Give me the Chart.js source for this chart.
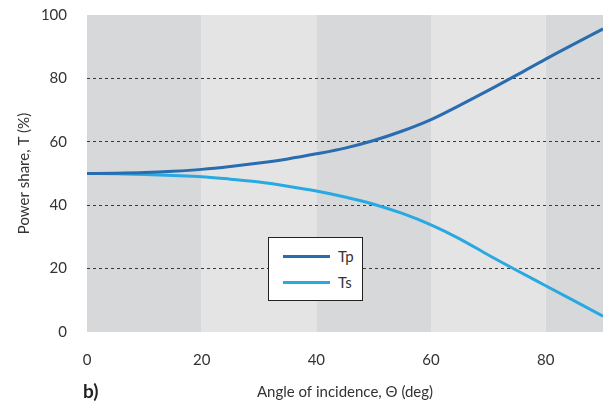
<!DOCTYPE html>
<html>
<head>
<meta charset="utf-8">
<script src="https://cdn.jsdelivr.net/npm/chart.js@4"></script>
<style>
  html, body { margin: 0; padding: 0; background: #fff; }
  #wrap { position: relative; width: 603px; height: 405px; }
  #legend {
    position: absolute; left: 268px; top: 237px; width: 95px; height: 64px;
    background: #fff; border: 1px solid #222; box-sizing: border-box;
    font-family: Lato, "Noto Sans", sans-serif; font-size: 15px; color: #333;
  }
  #legend .row { position: absolute; left: 14px; display: flex; align-items: center; }
  #legend .sw { width: 47px; height: 3px; margin-right: 8px; }
  #tag {
    position: absolute; left: 83px; top: 379px;
    font-family: Lato, "Noto Sans", sans-serif; font-weight: bold; font-size: 19px; color: #222;
  }
</style>
</head>
<body>
<div id="wrap">
  <canvas id="chart" width="603" height="405"></canvas>
  <div id="legend">
    <div class="row" style="top:9px"><span class="sw" style="background:#2a6cb0"></span>Tp</div>
    <div class="row" style="top:35px"><span class="sw" style="background:#29a9e1"></span>Ts</div>
  </div>
  <div id="tag">b)</div>
</div>
<script>
'use strict';

/* ── Data ── */
const angles = [0, 5, 10, 15, 20, 25, 30, 35, 40, 45, 50, 55, 60, 65, 70, 75, 80, 85, 90];
const tpValues = [50, 50.1, 50.3, 50.7, 51.3, 52.2, 53.3, 54.6, 56.2, 58.0, 60.4, 63.4, 67.0, 71.5, 76.2, 81.1, 86.1, 90.9, 95.6];
const tsValues = [50, 49.9, 49.7, 49.4, 49.0, 48.2, 47.3, 46.0, 44.5, 42.6, 40.3, 37.4, 33.8, 29.4, 24.3, 19.4, 14.6, 9.8, 5.0];
const xTicks = [0, 20, 40, 60, 80];
const yTicks = [0, 20, 40, 60, 80, 100];
const bandEdges = [0, 20, 40, 60, 80, 90];
const bandColors = ['#d7d8da', '#e4e4e4', '#d7d8da', '#e4e4e4', '#d7d8da'];

const FONT = 'Lato, "Noto Sans", sans-serif';

/* ── Alternating background bands (under grid + lines) ── */
const bandsPlugin = {
  id: 'bands',
  beforeDraw(chart) {
    const { ctx, chartArea: a, scales: { x } } = chart;
    ctx.save();
    for (let i = 0; i < bandColors.length; i++) {
      const x0 = x.getPixelForValue(bandEdges[i]);
      const x1 = x.getPixelForValue(bandEdges[i + 1]);
      ctx.fillStyle = bandColors[i];
      ctx.fillRect(x0, a.top, x1 - x0, a.bottom - a.top);
    }
    ctx.restore();
  }
};

const toPoints = vals => angles.map((a, i) => ({ x: a, y: vals[i] }));

new Chart(document.getElementById('chart'), {
  type: 'line',
  data: {
    datasets: [
      { label: 'Tp', data: toPoints(tpValues), borderColor: '#2a6cb0', borderWidth: 3, pointRadius: 0, cubicInterpolationMode: 'monotone', fill: false },
      { label: 'Ts', data: toPoints(tsValues), borderColor: '#29a9e1', borderWidth: 3, pointRadius: 0, cubicInterpolationMode: 'monotone', fill: false },
    ],
  },
  options: {
    responsive: false,
    animation: false,
    layout: { padding: { top: 15, right: 0, left: 0, bottom: 0 } },
    plugins: { legend: { display: false }, tooltip: { enabled: false } },
    scales: {
      x: {
        type: 'linear', min: 0, max: 90,
        afterBuildTicks: s => { s.ticks = xTicks.map(v => ({ value: v })); },
        afterFit: s => { s.height = 73; s.paddingLeft = 0; s.paddingRight = 0; },
        grid: { display: false },
        border: { display: false },
        ticks: { color: '#333', font: { family: FONT, size: 15 }, padding: 11 },
        title: { display: true, text: 'Angle of incidence, Θ (deg)', color: '#333', font: { family: FONT, size: 15 }, padding: { top: 12 } },
      },
      y: {
        min: 0, max: 100,
        afterBuildTicks: s => { s.ticks = yTicks.map(v => ({ value: v })); },
        afterFit: s => { s.width = 87; s.paddingTop = 0; s.paddingBottom = 0; },
        grid: {
          drawTicks: false,
          color: c => (c.tick && (c.tick.value === 0 || c.tick.value === 100)) ? 'rgba(0,0,0,0)' : 'rgba(30,30,30,0.85)',
          lineWidth: 1,
        },
        border: { display: false, dash: [3, 3] },
        ticks: { color: '#333', font: { family: FONT, size: 15 }, padding: 20 },
        title: { display: true, text: 'Power share, T (%)', color: '#333', font: { family: FONT, size: 15 }, padding: { top: 15, bottom: 4 } },
      },
    },
  },
  plugins: [bandsPlugin],
});
</script>
</body>
</html>
